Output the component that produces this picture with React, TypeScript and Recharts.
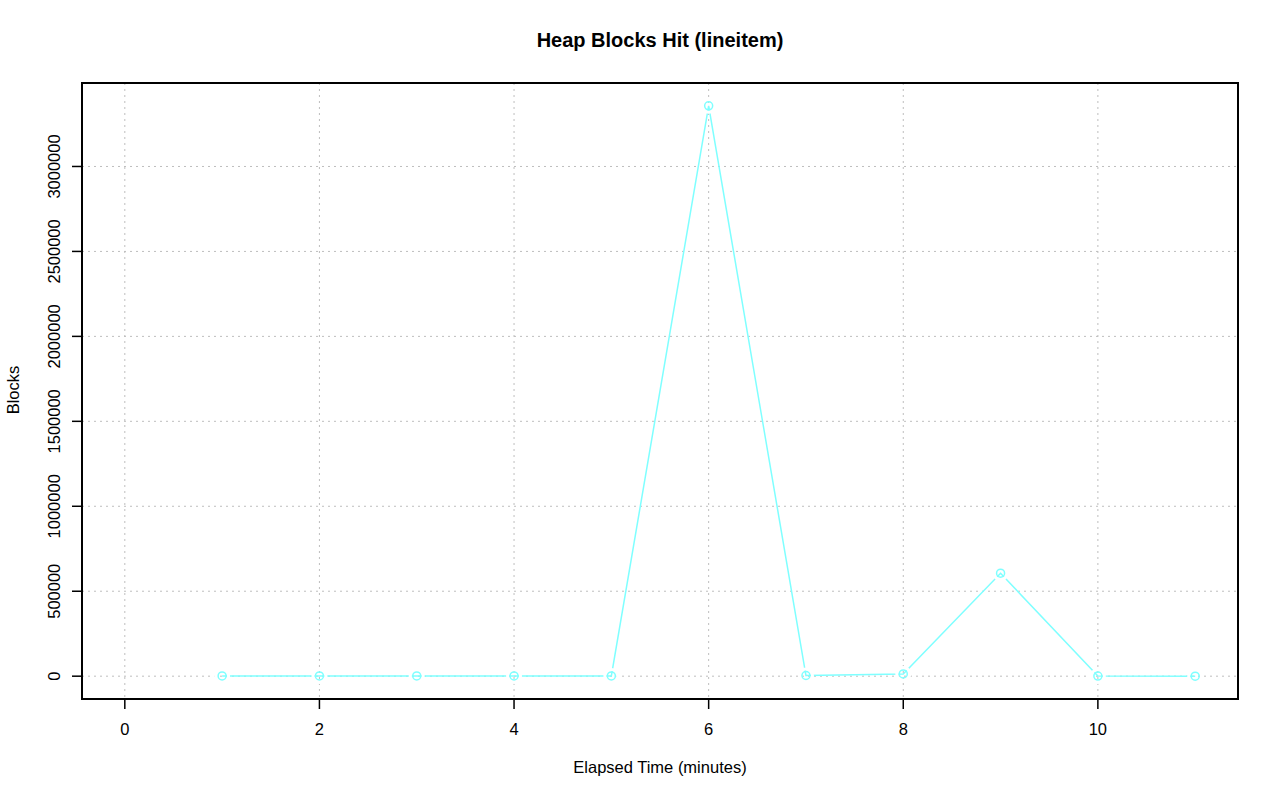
import { LineChart, Line, XAxis, YAxis, CartesianGrid, ReferenceArea } from "recharts"

const minutes = [1, 2, 3, 4, 5, 6, 7, 8, 9, 10, 11]
const blocksHit = [1200, 1500, 1300, 1400, 1600, 3357000, 4000, 13000, 606000, 500, 300]
const xTicks = [0, 2, 4, 6, 8, 10]
const yTicks = [0, 500000, 1000000, 1500000, 2000000, 2500000, 3000000]

const data = minutes.map((m, i) => ({ minute: m, blocks: blocksHit[i] }))

const font = "'Liberation Sans', Arial, Helvetica, sans-serif"
const cyan = "#7fffff"
const xDomain = [-0.44, 11.44]
const yDomain = [-134280, 3491280]

function YTick(props: any) {
  const { x, y, payload } = props
  return (
    <text
      transform={`translate(${x},${y}) rotate(-90)`}
      textAnchor="middle"
      fontSize={16.5}
      fontFamily={font}
      fill="#000"
    >
      {payload.value}
    </text>
  )
}

function OpenDot(props: any) {
  const { cx, cy, index } = props
  if (cx == null || cy == null) return <g key={index} />
  return (
    <g key={index}>
      <circle cx={cx} cy={cy} r={6.5} fill="none" stroke="#fff" strokeWidth={3} />
      <circle cx={cx} cy={cy} r={4} fill="none" stroke={cyan} strokeWidth={1.5} />
    </g>
  )
}

export default function App() {
  return (
    <div style={{ position: "absolute", left: 0, top: 0, width: 1280, height: 801, background: "#fff", fontFamily: font }}>
      <div style={{ position: "absolute", top: 29, left: 0, width: 1320, textAlign: "center", fontSize: 20, fontWeight: "bold" }}>
        Heap Blocks Hit (lineitem)
      </div>
      <LineChart width={1280} height={801} data={data} margin={{ top: 83, right: 42, bottom: 0, left: 0 }}>
        <CartesianGrid stroke="#bebebe" strokeDasharray="2 4" verticalValues={xTicks} horizontalValues={yTicks} />
        <XAxis
          dataKey="minute"
          type="number"
          domain={xDomain}
          allowDataOverflow
          ticks={xTicks}
          height={102}
          axisLine={false}
          tickSize={10}
          tickMargin={14}
          tickLine={{ stroke: "#000", strokeWidth: 1.5 }}
          tick={{ fontSize: 16.5, fill: "#000", fontFamily: font }}
        />
        <YAxis
          type="number"
          domain={yDomain}
          allowDataOverflow
          ticks={yTicks}
          width={82}
          axisLine={false}
          tickSize={10}
          tickMargin={12}
          tickLine={{ stroke: "#000", strokeWidth: 1.5 }}
          tick={<YTick />}
        />
        <ReferenceArea x1={xDomain[0]} x2={xDomain[1]} y1={yDomain[0]} y2={yDomain[1]} fill="none" stroke="#000" strokeWidth={2} ifOverflow="visible" />
        <Line
          dataKey="blocks"
          type="linear"
          stroke={cyan}
          strokeWidth={1.5}
          dot={<OpenDot />}
          activeDot={false}
          isAnimationActive={false}
        />
      </LineChart>
      <div style={{ position: "absolute", top: 758, left: 0, width: 1320, textAlign: "center", fontSize: 16.5 }}>
        Elapsed Time (minutes)
      </div>
      <div
        style={{
          position: "absolute",
          left: 13,
          top: 390,
          transform: "translate(-50%, -50%) rotate(-90deg)",
          fontSize: 16.5,
          lineHeight: "19px",
          whiteSpace: "nowrap",
        }}
      >
        Blocks
      </div>
    </div>
  )
}
